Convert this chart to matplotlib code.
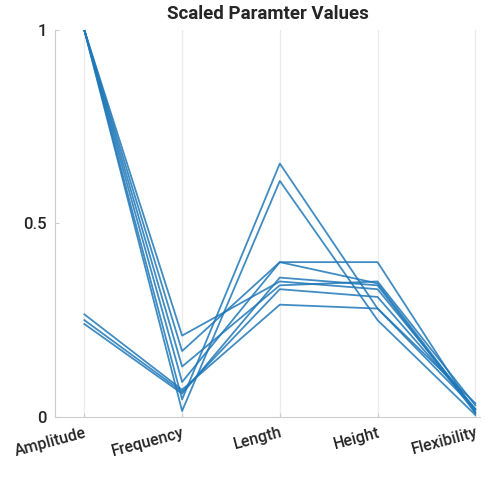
import matplotlib.pyplot as plt

params = ['Amplitude', 'Frequency', 'Length', 'Height', 'Flexibility']

# scaled parameter values, one row per design
amplitude   = [1.00, 1.00, 1.00, 1.00, 1.00, 1.00, 0.265, 0.25, 0.24]
frequency   = [0.21, 0.17, 0.13, 0.045, 0.015, 0.09, 0.07, 0.065, 0.06]
length      = [0.35, 0.40, 0.34, 0.655, 0.61, 0.40, 0.29, 0.33, 0.36]
height      = [0.33, 0.40, 0.35, 0.28, 0.25, 0.345, 0.28, 0.31, 0.34]
flexibility = [0.02, 0.01, 0.03, 0.02, 0.005, 0.015, 0.035, 0.02, 0.01]

plt.rcParams['font.family'] = ['Roboto', 'DejaVu Sans']

fig = plt.figure(figsize=(4.87, 4.78), dpi=100)
ax = fig.add_axes([0.113, 0.128, 0.873, 0.809])

xs = range(1, len(params) + 1)
for row in zip(amplitude, frequency, length, height, flexibility):
    ax.plot(xs, row, color='#1f78b8', alpha=0.85, lw=1.3)

ax.set_xlim(0.7, 5.05)
ax.set_ylim(0, 1)
ax.set_xticks(list(xs))
ax.set_xticklabels(params, rotation=15, fontsize=11.5, fontweight='medium',
                   ha='right', rotation_mode='anchor', color='#262626')
ax.set_yticks([0, 0.5, 1])
ax.set_yticklabels(['0', '0.5', '1'], fontsize=12, fontweight='medium', color='#262626')
ax.grid(axis='x', color='#ebebeb', lw=1)
ax.set_axisbelow(True)
ax.tick_params(direction='in', length=3, color='#cccccc', pad=6)

for side in ['top', 'right']:
    ax.spines[side].set_visible(False)
for side in ['left', 'bottom']:
    ax.spines[side].set_color('#cccccc')

ax.set_title('Scaled Paramter Values', fontsize=13.5, fontweight='bold',
             color='#262626', pad=8)

plt.savefig('out.png')
